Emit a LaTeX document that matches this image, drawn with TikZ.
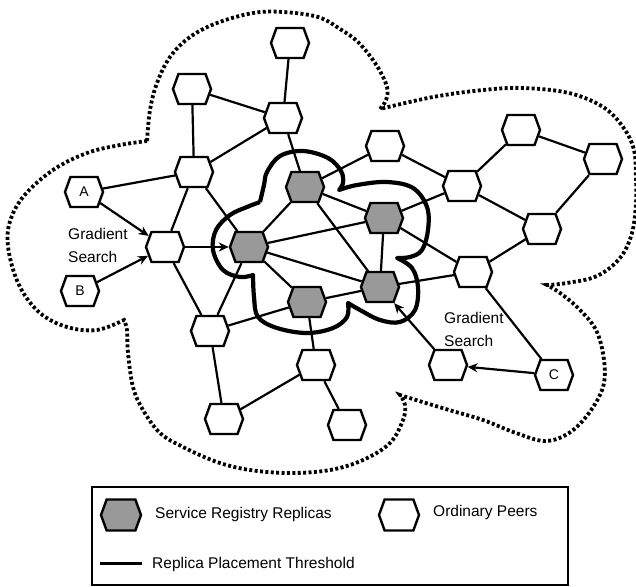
\documentclass[tikz,border=0pt]{standalone}
\usepackage{fontspec}
\setmainfont{Liberation Sans}
\usepackage{tikz}
\usetikzlibrary{
  shapes.symbols,
  arrows.meta
}

\begin{document}
\begin{tikzpicture}[x=1pt, y=-1pt,
  peer/.style={signal, signal to=west and east, signal pointer angle=140,
    draw, line width=2.4pt, fill=white, minimum width=38pt,
    minimum height=30pt, inner sep=0pt, font=\fontsize{14}{16}\selectfont},
  replica/.style={peer, fill=black!40},
  link/.style={line width=2.2pt},
  search/.style={line width=2.2pt, -{Stealth[length=10pt, width=9pt]}},
  threshold/.style={line width=4.2pt, line join=round},
  region/.style={line width=3.8pt, dash pattern=on 3pt off 2.4pt},
  lbl/.style={font=\fontsize{15.5}{23}\selectfont, align=left, inner sep=0pt}]
\useasboundingbox (0,0) rectangle (636,586);

% peers
\node[peer] (p1) at (290,43) {};
\node[peer] (p2) at (192,89) {};
\node[peer] (p3) at (283,118) {};
\node[peer] (p4) at (194,172) {};
\node[peer] (p5) at (385,146) {};
\node[peer] (p6) at (462,186) {};
\node[peer] (p7) at (521,130) {};
\node[peer] (p8) at (603,159) {};
\node[peer] (p9) at (542,229) {};
\node[peer] (p10) at (473,272) {};
\node[peer] (p11) at (448,365) {};
\node[peer] (p12) at (165,247) {};
\node[peer] (p13) at (210,331) {};
\node[peer] (p14) at (224,419) {};
\node[peer] (p15) at (316,365) {};
\node[peer] (p16) at (347,425) {};
\node[peer] (a) at (84,192) {A};
\node[peer] (b) at (80,291) {B};
\node[peer] (c) at (554,375) {C};

% replicas
\node[replica] (r1) at (305,187) {};
\node[replica] (r2) at (249,247) {};
\node[replica] (r3) at (384,218) {};
\node[replica] (r4) at (380,287) {};
\node[replica] (r5) at (307,302) {};

\draw[link] (p1) -- (p3);
\draw[link] (p2) -- (p3);
\draw[link] (p2) -- (p4);
\draw[link] (p3) -- (p4);
\draw[link] (p3) -- (r1);
\draw[link] (a) -- (p4);
\draw[link] (p4) -- (p12);
\draw[link] (p4) -- (r2);
\draw[link] (p12) -- (p13);
\draw[link] (p13) -- (r2);
\draw[link] (p13) -- (r5);
\draw[link] (p13) -- (p14);
\draw[link] (p14) -- (p15);
\draw[link] (p15) -- (p16);
\draw[link] (p15) -- (r5);
\draw[link] (r1) -- (r2);
\draw[link] (r1) -- (r3);
\draw[link] (r1) -- (r4);
\draw[link] (r1) -- (p5);
\draw[link] (r2) -- (r3);
\draw[link] (r2) -- (r4);
\draw[link] (r2) -- (r5);
\draw[link] (r3) -- (r4);
\draw[link] (r3) -- (p6);
\draw[link] (r3) -- (p10);
\draw[link] (r4) -- (r5);
\draw[link] (r4) -- (p10);
\draw[link] (p5) -- (p6);
\draw[link] (p6) -- (p7);
\draw[link] (p6) -- (p9);
\draw[link] (p7) -- (p8);
\draw[link] (p8) -- (p9);
\draw[link] (p9) -- (p10);
\draw[link] (p10) -- (c);

\draw[search] (a) -- (p12);
\draw[search] (b) -- (p12);
\draw[search] (p12) -- (r2);
\draw[search] (c) -- (p11);
\draw[search] (p11) -- (r4);

\node[lbl, anchor=north west] (gs1) at (68,228) {Gradient\\Search};
\node[lbl, anchor=north west] (gs2) at (444,312) {Gradient\\Search};

% replica placement threshold
\draw[threshold]
  plot[smooth, tension=0.6] coordinates {(260,202) (264,185) (267,172) (280,156) (303,151) (328,158) (341,171) (343,183) (339,190)}
  -- plot[smooth, tension=0.6] coordinates {(339,190) (357,185) (387,182) (413,188) (427,207) (428,230) (422,250) (410,257) (397,258)}
  -- plot[smooth, tension=0.6] coordinates {(397,258) (412,268) (418,287) (415,310) (400,322) (380,320) (360,310) (348,303)}
  -- plot[smooth, tension=0.6] coordinates {(348,303) (347,317) (333,328) (307,333) (277,328) (258,317) (254,297) (253,275)}
  -- plot[smooth, tension=0.6] coordinates {(253,275) (240,277) (223,270) (213,250) (216,230) (230,215) (247,207) (260,202)};

% overlay region
\draw[region]
  plot[smooth, tension=0.6] coordinates {(147,141) (150,110) (157,83) (170,57) (190,37) (217,23) (253,13) (283,12) (318,17) (340,29) (359,43) (377,66) (387,87) (386,100) (380,109)}
  -- plot[smooth, tension=0.6] coordinates {(380,109) (433,97) (483,90) (523,88) (569,93) (603,107) (623,127) (634,150) (636,180) (636,203) (632,233) (620,258) (597,276) (567,283) (547,285)}
  -- plot[smooth, tension=0.6] coordinates {(547,285) (560,293) (578,308) (596,330) (604,360) (603,387) (589,413) (569,433) (545,441) (516,433) (483,420) (449,410) (416,400) (400,395)}
  -- plot[smooth, tension=0.6] coordinates {(400,395) (405,405) (403,420) (390,443) (363,460) (330,470) (290,473) (250,470) (217,462) (183,447) (160,433) (143,410) (133,387) (128,353) (127,330) (124,320)}
  -- plot[smooth, tension=0.6] coordinates {(124,320) (97,330) (67,327) (40,313) (20,287) (9,253) (9,225) (23,197) (53,170) (87,153) (120,145) (147,141)};

% legend
\draw[line width=2.5pt] (92,487) rectangle (568,585);
\node[replica, minimum width=40pt, minimum height=31pt] (lr) at (121,515) {};
\node[lbl, anchor=west] (lrt) at (155,514) {Service Registry Replicas};
\node[peer, minimum width=40pt, minimum height=31pt] (lp) at (399,515) {};
\node[lbl, anchor=west] (lpt) at (433,512) {Ordinary Peers};
\draw[line width=3pt] (100,563) -- (142,563);
\node[lbl, anchor=west] (ltt) at (152,564) {Replica Placement Threshold};

\end{tikzpicture}
\end{document}
